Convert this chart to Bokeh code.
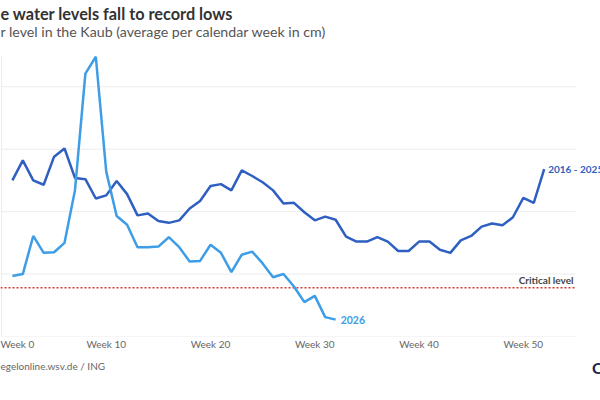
from bokeh.plotting import figure
from bokeh.models import Label, Title, FixedTicker
from bokeh.embed import file_html
from bokeh.resources import INLINE

weeks = list(range(1, 53))
avg_2016_2025 = [250, 282, 250, 243, 288, 301, 254, 252, 221, 226,
                 249, 228, 194, 197, 185, 182, 186, 205, 217, 241,
                 244, 234, 266, 257, 247, 234, 213, 214, 199, 186,
                 192, 187, 160, 152, 152, 159, 152, 137, 137, 152,
                 152, 139, 134, 154, 161, 176, 181, 178, 191, 222,
                 214, 268]
weeks_2026 = list(range(1, 33))
level_2026 = [97, 100, 161, 134, 135, 150, 234, 421, 448, 264,
              193, 179, 143, 143, 144, 159, 143, 120, 121, 147,
              134, 103, 131, 136, 117, 95, 100, 80, 55, 65,
              31, 27]
critical_level = 78
x_ticks = [0, 10, 20, 30, 40, 50]
x_tick_labels = {t: f"Week {t}" for t in x_ticks}
y_grid = [0, 100, 200, 300, 400]

title_text = "e water levels fall to record lows"
subtitle_text = "r level in the Kaub (average per calendar week in cm)"
source_text = "egelonline.wsv.de / ING"
logo_text = "C"

DARK = "#2e5fc1"
LIGHT = "#3d9de6"
RED = "#d33a2c"
GRID = "#ececec"
FONT = "Lato"

X_MIN, X_MAX, GRID_END = -0.14, 57.4, 55.0

p = figure(width=600, height=392, output_backend="svg", toolbar_location=None,
           x_range=(X_MIN, X_MAX), y_range=(0, 450),
           min_border_left=0, min_border_right=0, min_border_top=55,
           min_border_bottom=56)
p.outline_line_color = None
p.background_fill_color = "white"
p.border_fill_color = "white"

p.yaxis.visible = False
p.xaxis.ticker = FixedTicker(ticks=x_ticks)
p.xaxis.major_label_overrides = x_tick_labels
p.xaxis.axis_line_color = None
p.xaxis.major_tick_line_color = None
p.xaxis.minor_tick_line_color = None
p.xaxis.major_label_text_font = FONT
p.xaxis.major_label_text_font_size = "10px"
p.xaxis.major_label_text_color = "#666666"
p.xaxis.major_label_standoff = -5

p.xgrid.ticker = FixedTicker(ticks=[0])
p.xgrid.grid_line_color = GRID
p.ygrid.visible = False

# horizontal grid lines ending short of the right edge
p.segment(x0=[X_MIN] * len(y_grid), y0=y_grid, x1=[GRID_END] * len(y_grid), y1=y_grid,
          line_color=GRID, line_width=1)
# critical level
p.segment(x0=[X_MIN], y0=[critical_level], x1=[GRID_END], y1=[critical_level],
          line_color=RED, line_width=1.5, line_dash="2 2")

p.line(weeks, avg_2016_2025, line_color=DARK, line_width=2.5)
p.line(weeks_2026, level_2026, line_color=LIGHT, line_width=2.5)

p.add_layout(Label(x=weeks[-1], y=avg_2016_2025[-1], text="2016 - 2025",
                   x_offset=4, text_baseline="middle", text_font=FONT,
                   text_font_style="bold", text_font_size="10px", text_color=DARK))
p.add_layout(Label(x=weeks_2026[-1], y=level_2026[-1], text="2026",
                   x_offset=5, text_baseline="middle", text_font=FONT,
                   text_font_style="bold", text_font_size="10.5px", text_color=LIGHT))
p.add_layout(Label(x=GRID_END, y=critical_level, text="Critical level",
                   x_offset=-2, y_offset=2, text_align="right", text_baseline="bottom",
                   text_font=FONT, text_font_style="bold", text_font_size="10px",
                   text_color="#444444"))

p.add_layout(Title(text=subtitle_text, align="left", offset=0, standoff=31,
                   text_font=FONT, text_font_style="normal", text_font_size="14.2px",
                   text_color="#555555"), "above")
p.add_layout(Title(text=title_text, align="left", offset=0, standoff=-35,
                   text_font=FONT, text_font_style="bold", text_font_size="16.3px",
                   text_color="#333333"), "above")
p.add_layout(Title(text=source_text, align="left", offset=0, standoff=10,
                   text_font=FONT, text_font_style="normal", text_font_size="10px",
                   text_color="#666666"), "below")
p.add_layout(Title(text=logo_text, align="right", offset=-2, standoff=-38,
                   vertical_align="top",
                   text_font=FONT, text_font_style="bold", text_font_size="16px",
                   text_color="#1b2150"), "below")

open("out.html", "w").write(file_html(p, INLINE))
